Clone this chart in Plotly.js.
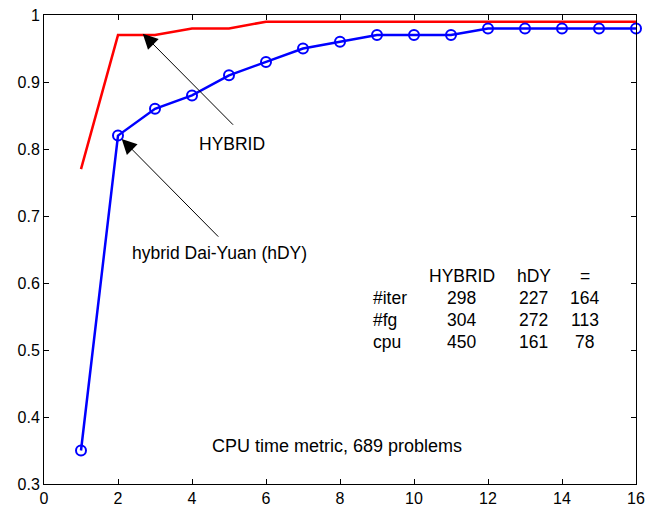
<!DOCTYPE html>
<html>
<head>
<meta charset="utf-8">
<script src="https://cdn.plot.ly/plotly-3.0.1.min.js"></script>
<style>
  html, body { margin: 0; padding: 0; background: #fff; }
  #chart { width: 646px; height: 509px; }
</style>
</head>
<body>
<div id="chart"></div>
<script>
// Performance profiles (CPU time metric)
const tau = [1, 2, 3, 4, 5, 6, 7, 8, 9, 10, 11, 12, 13, 14, 15, 16];
const hybrid = [0.77, 0.97, 0.97, 0.98, 0.98, 0.99, 0.99, 0.99, 0.99, 0.99, 0.99, 0.99, 0.99, 0.99, 0.99, 0.99];
const hdy = [0.35, 0.82, 0.86, 0.88, 0.91, 0.93, 0.95, 0.96, 0.97, 0.97, 0.97, 0.98, 0.98, 0.98, 0.98, 0.98];

// Summary table
const tableCols = ['HYBRID', 'hDY', '='];
const tableRows = ['#iter', '#fg', 'cpu'];
const tableVals = [
  [298, 227, 164],
  [304, 272, 113],
  [450, 161, 78]
];
const caption = 'CPU time metric, 689 problems';

const FONT = 'Arial, "Liberation Sans", sans-serif';
const FS = 17.5;

// table placement (data coordinates)
const colX = [11.29, 13.24, 14.61];
const rowLabelX = 8.85;
const headerY = 0.61;
const rowY = [0.577, 0.5445, 0.5117];

const annotations = [];

// arrows pointing at the curves
annotations.push({
  x: 2.67, y: 0.972, ax: 5.15, ay: 0.834, xref: 'x', yref: 'y', axref: 'x', ayref: 'y',
  text: '', showarrow: true, arrowhead: 2, arrowsize: 3, arrowwidth: 1, arrowcolor: '#000', standoff: 0
});
annotations.push({
  x: 2.10, y: 0.815, ax: 4.75, ay: 0.667, xref: 'x', yref: 'y', axref: 'x', ayref: 'y',
  text: '', showarrow: true, arrowhead: 2, arrowsize: 3, arrowwidth: 1, arrowcolor: '#000', standoff: 0
});
annotations.push({ x: 5.07, y: 0.808, xref: 'x', yref: 'y', text: 'HYBRID', showarrow: false,
  font: { family: FONT, size: FS, color: '#000' } });
annotations.push({ x: 4.75, y: 0.645, xref: 'x', yref: 'y', text: 'hybrid Dai-Yuan (hDY)', showarrow: false,
  font: { family: FONT, size: FS, color: '#000' } });

// table header
tableCols.forEach((c, j) => annotations.push({
  x: colX[j], y: headerY, xref: 'x', yref: 'y', text: c, showarrow: false,
  font: { family: FONT, size: FS, color: '#000' }
}));
// table body
tableRows.forEach((r, i) => {
  annotations.push({
    x: rowLabelX, y: rowY[i], xref: 'x', yref: 'y', text: r, showarrow: false, xanchor: 'left',
    font: { family: FONT, size: FS, color: '#000' }
  });
  tableVals[i].forEach((v, j) => annotations.push({
    x: colX[j], y: rowY[i], xref: 'x', yref: 'y', text: String(v), showarrow: false,
    font: { family: FONT, size: FS, color: '#000' }
  }));
});
annotations.push({ x: 7.91, y: 0.356, xref: 'x', yref: 'y', text: caption, showarrow: false,
  font: { family: FONT, size: 18, color: '#000' } });

const traces = [
  {
    x: tau, y: hybrid, type: 'scatter', mode: 'lines', name: 'HYBRID',
    line: { color: '#ff0000', width: 2.5 }, cliponaxis: false
  },
  {
    x: tau, y: hdy, type: 'scatter', mode: 'lines+markers', name: 'hDY',
    line: { color: '#0000ff', width: 2.5 },
    marker: { symbol: 'circle-open', size: 10, color: '#0000ff', line: { color: '#0000ff', width: 2 } },
    cliponaxis: false
  }
];

const axisCommon = {
  showgrid: false, zeroline: false, showline: true, linecolor: '#000', linewidth: 1,
  mirror: 'ticks', ticks: 'inside', ticklen: 5, tickcolor: '#000', tickwidth: 1,
  tickfont: { family: FONT, size: 16, color: '#000' }
};

const layout = {
  width: 646, height: 509,
  margin: { l: 44, r: 10, t: 15, b: 25 },
  paper_bgcolor: '#fff', plot_bgcolor: '#fff',
  showlegend: false,
  xaxis: Object.assign({}, axisCommon, { range: [0, 16], dtick: 2, tick0: 0 }),
  yaxis: Object.assign({}, axisCommon, { range: [0.3, 1], dtick: 0.1, tick0: 0.3 }),
  annotations: annotations
};

Plotly.newPlot('chart', traces, layout, { displayModeBar: false, staticPlot: true });
</script>
</body>
</html>
